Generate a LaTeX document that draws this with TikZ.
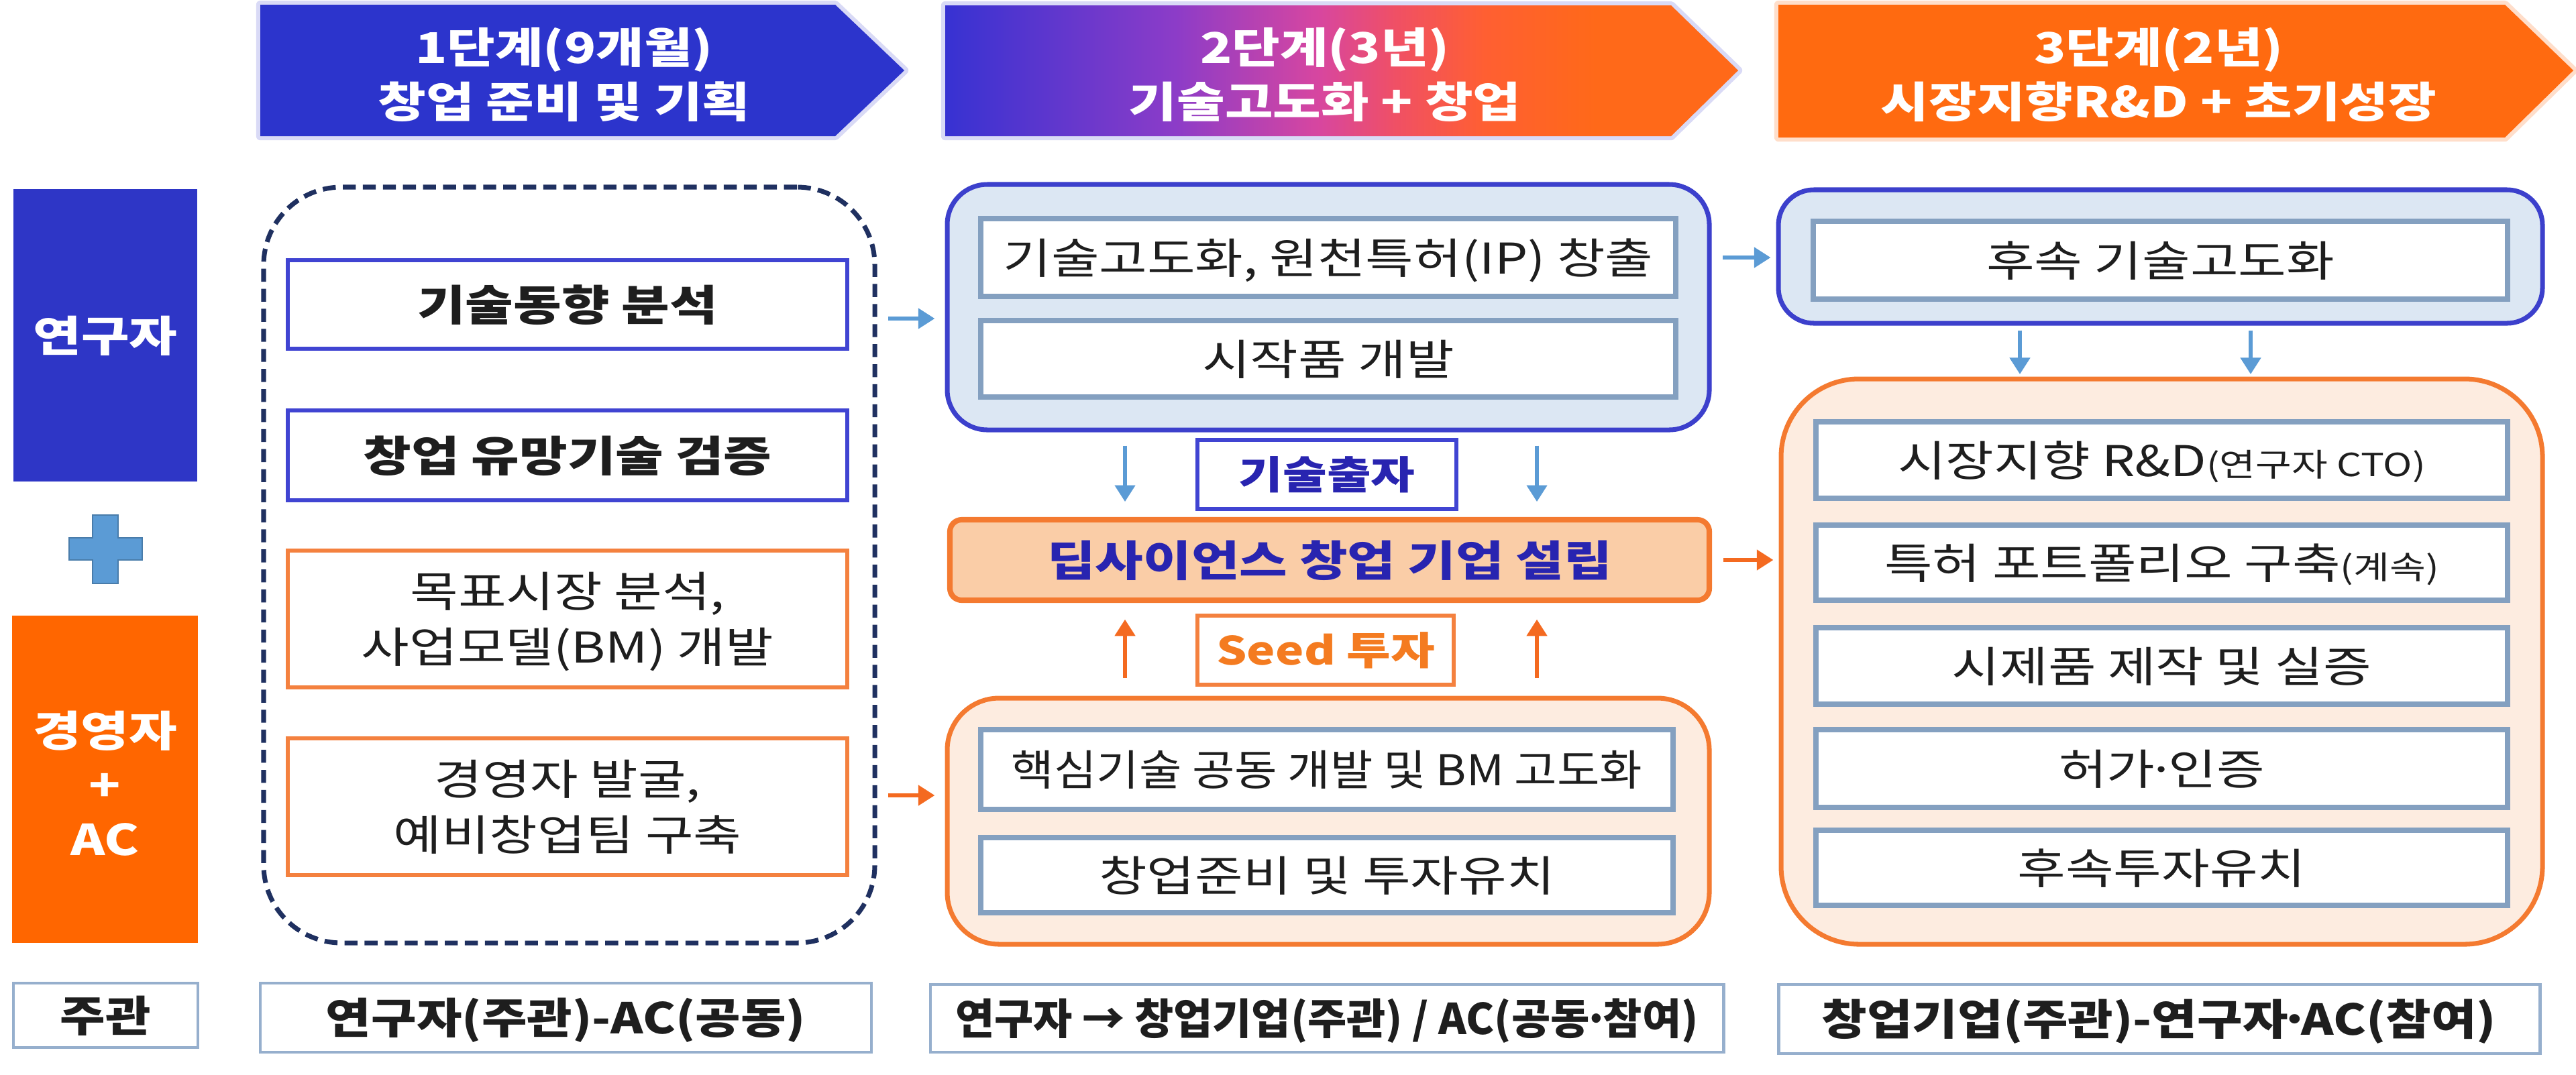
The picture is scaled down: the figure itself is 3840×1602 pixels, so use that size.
\documentclass[tikz,border=0pt]{standalone}
\usepackage{fontspec}
\setmainfont{Noto Sans CJK KR}[FakeStretch=1.23]
\newfontfamily\condfont{Noto Sans CJK KR}[FakeStretch=1.09]
\newfontfamily\labfont{Noto Sans CJK KR}[FakeStretch=1.16]
\newfontfamily\narfont{Noto Sans CJK KR}[FakeStretch=1.0]
\usetikzlibrary{arrows.meta,fit,calc}
\definecolor{hblue}{RGB}{44,52,204}
\definecolor{horange}{RGB}{255,106,16}
\definecolor{yeonblue}{RGB}{46,54,198}
\definecolor{kyungor}{RGB}{255,102,0}
\definecolor{plusblue}{RGB}{91,155,213}
\definecolor{navy}{RGB}{31,48,96}
\definecolor{boxblue}{RGB}{64,68,210}
\definecolor{boxor}{RGB}{244,129,63}
\definecolor{steel}{RGB}{132,160,192}
\definecolor{grpblue}{RGB}{60,64,204}
\definecolor{grpfill}{RGB}{220,231,243}
\definecolor{grpor}{RGB}{244,122,48}
\definecolor{grporfill}{RGB}{253,236,224}
\definecolor{deepfill}{RGB}{250,205,167}
\definecolor{deeptext}{RGB}{40,36,176}
\definecolor{seedtext}{RGB}{244,123,32}
\definecolor{labborder}{RGB}{150,175,205}
\definecolor{arrblue}{RGB}{91,155,213}
\definecolor{arror}{RGB}{244,106,32}
\definecolor{txt}{RGB}{30,30,30}
\definecolor{g0}{RGB}{55,50,210}
\definecolor{g1}{RGB}{140,60,200}
\definecolor{g2}{RGB}{215,70,160}
\definecolor{g3}{RGB}{240,80,100}
\definecolor{g4}{RGB}{255,95,50}
\definecolor{g5}{RGB}{255,105,25}
\pgfdeclarehorizontalshading{hgrad}{100bp}{color(0bp)=(g0); color(25bp)=(g0); color(39.5bp)=(g1); color(48.5bp)=(g2); color(53.5bp)=(g3); color(59bp)=(g4); color(66bp)=(g5); color(75bp)=(g5); color(100bp)=(g5)}
\newcommand\stdsize{\fontsize{18pt}{23.6pt}\selectfont}
\newcommand\smallsz{\fontsize{13.5pt}{16pt}\selectfont}
\newcommand\labsize{\fontsize{16.5pt}{20pt}\selectfont}
% narrow middle dot
\newcommand\md{\makebox[0.32em][c]{·}}
% centred text of zero size: its visual middle sits on the node centre
\newcommand\cl[1]{\makebox[0pt][c]{\raisebox{-0.38em}[0pt][0pt]{#1}}}
\newcommand\twol[3][11.8pt]{\cl{\makebox[0pt][c]{\raisebox{#1}{#2}}\makebox[0pt][c]{\raisebox{-#1}{#3}}}}
\newcommand\threel[4][23pt]{\cl{\makebox[0pt][c]{\raisebox{#1}{#2}}\makebox[0pt][c]{#3}\makebox[0pt][c]{\raisebox{-#1}{#4}}}}
\begin{document}
\begin{tikzpicture}[x=0.01cm,y=-0.01cm,
  box/.style={rectangle, fill=white, inner sep=0pt, font=\stdsize, text=txt},
  bluebox/.style={box, draw=boxblue, line width=1.7pt, font=\stdsize\bfseries},
  orbox/.style={box, draw=boxor, line width=1.7pt},
  inbox/.style={box, draw=steel, line width=2.1pt},
  grpb/.style={rectangle, draw=grpblue, fill=grpfill, line width=2pt, rounded corners=17pt, inner sep=0pt},
  grpo/.style={rectangle, draw=grpor, fill=grporfill, line width=2pt, rounded corners=22pt, inner sep=0pt},
  labbox/.style={box, draw=labborder, line width=1.4pt, font=\stdsize\bfseries\labfont},
  hdrtext/.style={text=white, font=\stdsize\bfseries, inner sep=0pt},
  sidebox/.style={rectangle, inner sep=0pt, text=white, font=\stdsize\bfseries},
  barr/.style={draw=arrblue, line width=1.5pt, -{Triangle[width=8.5pt,length=7pt]}},
  oarr/.style={draw=arror, line width=1.5pt, -{Triangle[width=8.5pt,length=7pt]}},
  halo/.style={line width=3.5pt, line join=round},
]
\useasboundingbox (0,0) rectangle (3840,1602);
\fill[white] (0,0) rectangle (3840,1602);

% header arrows
\draw[halo, draw=hblue!18] (388,7) -- (1245,7) -- (1348,105) -- (1245,203) -- (388,203) -- cycle;
\draw[halo, draw=hblue!18] (1409,8) -- (2491,8) -- (2591,105) -- (2491,203) -- (1409,203) -- cycle;
\draw[halo, draw=horange!22] (2651,7) -- (3734,7) -- (3836,105) -- (3734,205) -- (2651,205) -- cycle;
\fill[hblue] (388,7) -- (1245,7) -- (1348,105) -- (1245,203) -- (388,203) -- cycle;
\shade[shading=hgrad] (1409,8) -- (2491,8) -- (2591,105) -- (2491,203) -- (1409,203) -- cycle;
\fill[horange] (2651,7) -- (3734,7) -- (3836,105) -- (3734,205) -- (2651,205) -- cycle;
\node[hdrtext] (h1) at (841,111) {\twol[11.6pt]{1단계(9개월)}{창업 준비 및 기획}};
\node[hdrtext] (h2) at (1975,111) {\twol[11.6pt]{2단계(3년)}{기술고도화 + 창업}};
\node[hdrtext] (h3) at (3218,111) {\twol[11.6pt]{3단계(2년)}{시장지향R\&D + 초기성장}};

% left column
\node[sidebox, fill=yeonblue, fit={(20,282) (294,718)}] (yeon) {\cl{연구자}};
\fill[plusblue, draw=plusblue!80!black, line width=0.6pt]
  (138,768) -- (176,768) -- (176,802) -- (212,802) -- (212,835) -- (176,835) -- (176,870)
  -- (138,870) -- (138,835) -- (103,835) -- (103,802) -- (138,802) -- cycle;
\node[sidebox, fill=kyungor, fit={(18,918) (295,1406)}] (kyung) {\raisebox{-5pt}{\threel{경영자}{+}{AC}}};
\node[labbox, fit={(20,1466) (295,1562)}] (jk) {\cl{주관}};

% column 1
\node[draw=navy, line width=2pt, dash pattern=on 5.5pt off 3pt, rounded corners=33pt,
  inner sep=0pt, fit={(393,279) (1304,1406)}] (dash) {};
\node[bluebox, fit={(429,388) (1263,520)}] (c1a) {\cl{기술동향 분석}};
\node[bluebox, fit={(429,612) (1263,746)}] (c1b) {\cl{창업 유망기술 검증}};
\node[orbox, fit={(429,821) (1263,1025)}] (c1c) {\twol{목표시장 분석,}{사업모델(BM) 개발}};
\node[orbox, fit={(429,1101) (1263,1305)}] (c1d) {\twol{경영자 발굴,}{예비창업팀 구축}};
\node[labbox, fit={(388,1466) (1299,1569)}] (lab1) {\cl{연구자(주관)-AC(공동)}};

% column 2
\node[grpb, fit={(1412,275) (2548,641)}] (g2a) {};
\node[inbox, fit={(1462,326) (2498,442)}] (c2a) {\cl{기술고도화, 원천특허(IP) 창출}};
\node[inbox, fit={(1462,478) (2498,592)}] (c2b) {\cl{시작품 개발}};
\node[box, draw=boxblue, line width=1.5pt, text=deeptext, font=\labsize\bfseries,
  fit={(1785,656) (2171,759)}] (tech) {\cl{기술출자}};
\node[box, fill=deepfill, draw=grpor, line width=2.3pt, rounded corners=5pt, text=deeptext,
  font=\stdsize\bfseries, fit={(1416,775) (2548,895)}] (deep) {\cl{딥사이언스 창업 기업 설립}};
\node[box, draw=boxor, line width=1.5pt, text=seedtext, font=\labsize\bfseries,
  fit={(1785,918) (2167,1021)}] (seed) {\cl{Seed 투자}};
\node[grpo, fit={(1412,1041) (2548,1408)}] (g2b) {};
\node[inbox, font=\stdsize\condfont, fit={(1462,1088) (2494,1207)}] (c2c) {\cl{핵심기술 공동 개발 및 BM 고도화}};
\node[inbox, fit={(1462,1249) (2494,1361)}] (c2d) {\cl{창업준비 및 투자유치}};
\node[labbox, font=\stdsize\bfseries\narfont, fit={(1387,1468) (2569,1569)}] (lab2) {\cl{연구자 → 창업기업(주관) / AC(공동\md 참여)}};

% column 3
\node[grpb, rounded corners=15pt, fit={(2651,283) (3790,482)}] (g3a) {};
\node[inbox, fit={(2703,330) (3738,446)}] (c3a) {\cl{후속 기술고도화}};
\node[grpo, rounded corners=33pt, fit={(2655,565) (3790,1408)}] (g3b) {};
\node[inbox, fit={(2707,629) (3738,743)}] (c3b) {\cl{시장지향 R\&D{\smallsz(연구자 CTO)}}};
\node[inbox, fit={(2707,783) (3738,895)}] (c3c) {\cl{특허 포트폴리오 구축{\smallsz(계속)}}};
\node[inbox, fit={(2707,936) (3738,1050)}] (c3d) {\cl{시제품 제작 및 실증}};
\node[inbox, fit={(2707,1088) (3738,1204)}] (c3e) {\cl{허가\md 인증}};
\node[inbox, fit={(2707,1238) (3738,1350)}] (c3f) {\cl{후속투자유치}};
\node[labbox, fit={(2651,1468) (3786,1571)}] (lab3) {\cl{창업기업(주관)-연구자\md AC(참여)}};

% connector helpers
\coordinate (yb1) at (0,475);
\coordinate (yo1) at (0,1186);
\coordinate (xa) at (1677,0);
\coordinate (xb) at (2291,0);
\coordinate (xc) at (3011,0);
\coordinate (xd) at (3355,0);

% arrows
\draw[barr, shorten <=4.8pt, shorten >=4.3pt] (dash.east |- yb1) -- (g2a.west |- yb1);
\draw[oarr, shorten <=4.8pt, shorten >=4.3pt] (dash.east |- yo1) -- (g2b.west |- yo1);
\draw[barr, shorten <=4.8pt, shorten >=2.3pt] (g2a.east |- c2a) -- (g3a.west |- c2a);
\draw[oarr, shorten <=4.8pt, shorten >=2.3pt] (deep.east) -- (g3b.west |- deep.east);
\draw[barr, shorten <=5.7pt, shorten >=6.5pt] (g2a.south -| xa) -- (deep.north -| xa);
\draw[barr, shorten <=5.7pt, shorten >=6.5pt] (g2a.south -| xb) -- (deep.north -| xb);
\draw[oarr, shorten <=7.5pt, shorten >=7pt] (g2b.north -| xa) -- (deep.south -| xa);
\draw[oarr, shorten <=7.5pt, shorten >=7pt] (g2b.north -| xb) -- (deep.south -| xb);
\draw[barr, shorten <=2pt, shorten >=1pt] (g3a.south -| xc) -- (g3b.north -| xc);
\draw[barr, shorten <=2pt, shorten >=1pt] (g3a.south -| xd) -- (g3b.north -| xd);
\end{tikzpicture}
\end{document}
